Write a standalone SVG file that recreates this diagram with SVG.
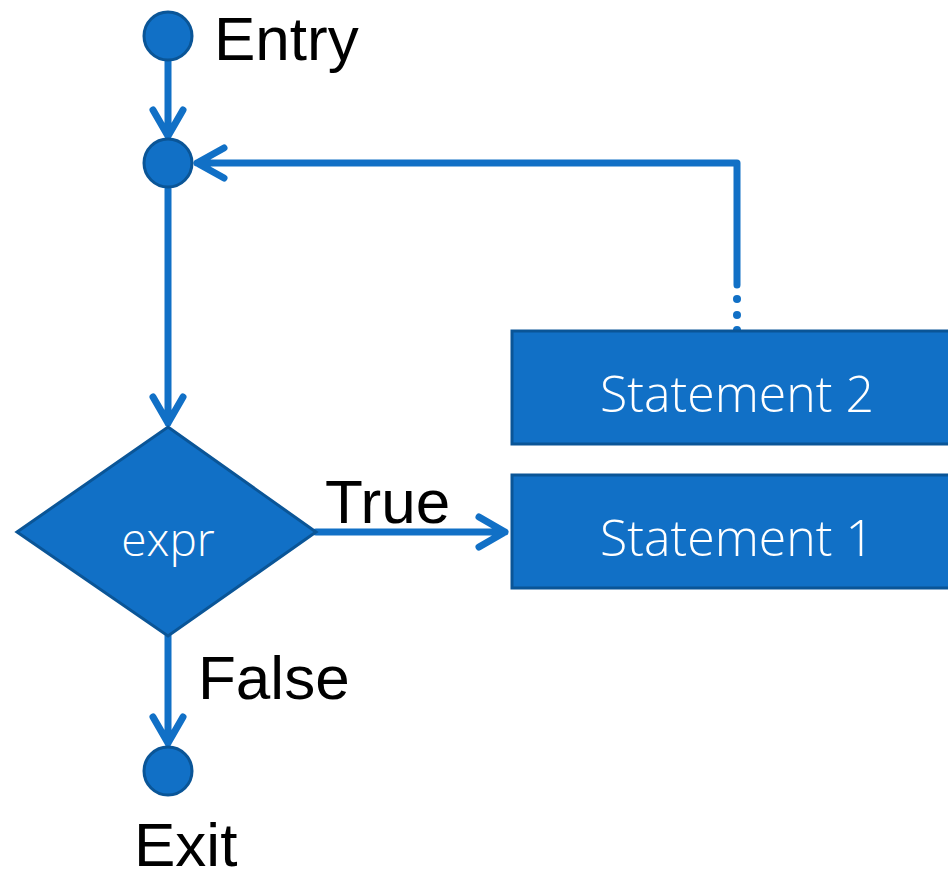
<svg xmlns="http://www.w3.org/2000/svg" width="948" height="881" viewBox="0 0 948 881">
<defs>
<style>
.node{fill:#1170C6;stroke:#0A5597;stroke-width:3}
.conn{fill:none;stroke:#1170C6;stroke-width:7;stroke-linecap:round;stroke-linejoin:round}
.lbl{font-family:"Liberation Sans",Arial,sans-serif;font-size:62px;fill:#000}
.in{font-family:"Open Sans","Noto Sans",sans-serif;font-weight:300;fill:#fff;text-anchor:middle}
</style>
</defs>
<rect width="948" height="881" fill="#fff"/>
<g id="connectors">
<path class="conn" d="M168 61V136M153 110L168 136L183 110"/>
<path class="conn" d="M737 285V163H197M224 148L197 163L224 178"/>
<circle cx="737" cy="299" r="4" fill="#1170C6"/>
<circle cx="737" cy="315" r="4" fill="#1170C6"/>
<circle cx="737" cy="330" r="4" fill="#1170C6"/>
<path class="conn" d="M168 189V423M153 397L168 423L183 397"/>
<path class="conn" d="M316 532H505M479 517L505 532L479 547"/>
<path class="conn" d="M168 636V743M153 717L168 743L183 717"/>
</g>
<g id="entry">
<circle class="node" cx="168" cy="36" r="24"/>
<text class="lbl" x="214" y="60" font-size="65">Entry</text>
</g>
<g id="junction">
<circle class="node" cx="168" cy="163" r="24"/>
</g>
<g id="expr">
<polygon class="node" points="168,427 316,532 168,636 17,532"/>
<text class="in" x="168" y="556" font-size="46">expr</text>
</g>
<g id="statement2">
<rect class="node" x="512" y="331" width="445" height="113"/>
<text class="in" x="737" y="412" font-size="50">Statement 2</text>
</g>
<g id="statement1">
<rect class="node" x="512" y="475" width="445" height="113"/>
<text class="in" x="737" y="556" font-size="50">Statement 1</text>
</g>
<g id="true-label"><text class="lbl" x="325" y="523" font-size="64">True</text></g>
<g id="false-label"><text class="lbl" x="198" y="699">False</text></g>
<g id="exit">
<circle class="node" cx="168" cy="771" r="24"/>
<text class="lbl" x="134" y="866" font-size="62">Exit</text>
</g>
</svg>
